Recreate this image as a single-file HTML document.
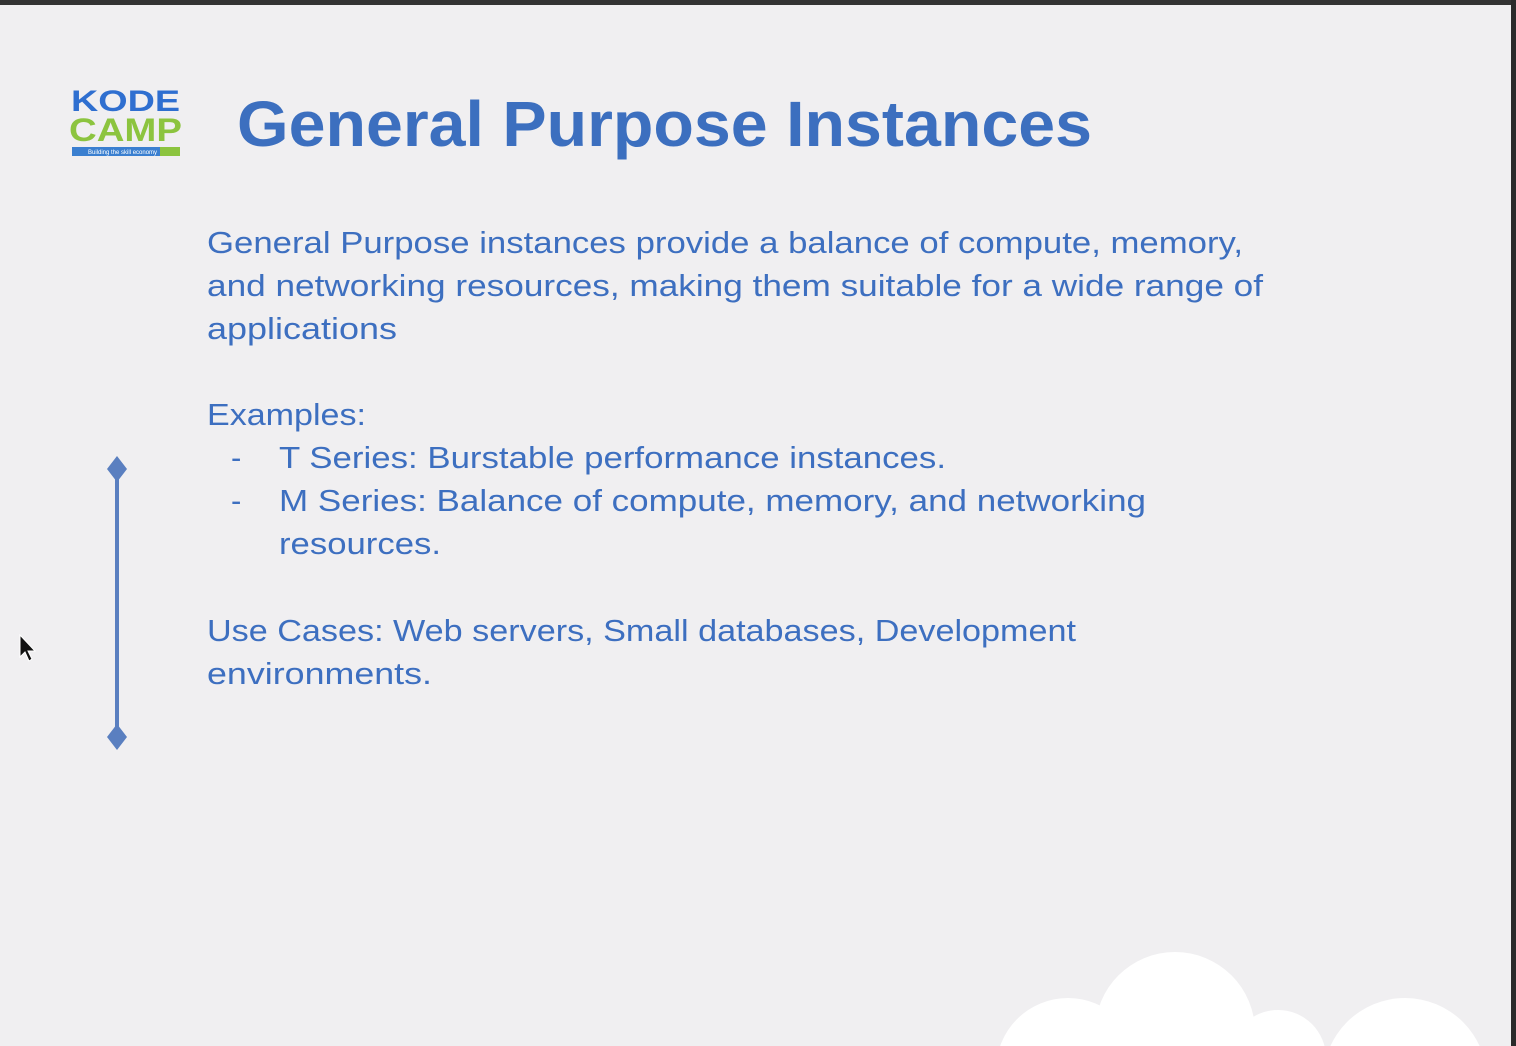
<!DOCTYPE html>
<html><head><meta charset="utf-8"><style>
html,body{margin:0;padding:0;background:#f0eff1;width:1516px;height:1046px;overflow:hidden;}
svg{display:block}
</style></head><body>
<svg width="1516" height="1046" viewBox="0 0 1516 1046" xmlns="http://www.w3.org/2000/svg">
<rect width="1516" height="1046" fill="#f0eff1"/>
<rect width="1516" height="5" fill="#333"/>
<rect x="1511" y="0" width="5" height="1046" fill="#2a2a2a"/>
<g fill="#ffffff">
<circle cx="1068" cy="1070" r="72"/>
<circle cx="1175" cy="1032" r="80"/>
<circle cx="1278" cy="1058" r="48"/>
<circle cx="1405" cy="1080" r="82"/>
</g>
<g font-family="Liberation Sans, sans-serif" font-weight="bold">
<text x="71" y="111" font-size="30" fill="#2f6fd0" textLength="109" lengthAdjust="spacingAndGlyphs">KODE</text>
<text x="69" y="141" font-size="32" fill="#8cc43f" textLength="113" lengthAdjust="spacingAndGlyphs">CAMP</text>
<rect x="72" y="147" width="108" height="9" fill="#3a7fd0"/>
<rect x="160" y="147" width="20" height="9" fill="#8cc43f"/>
<text x="88" y="154" font-size="6" fill="#fff" font-weight="normal">Building the skill economy</text>
</g>
<text x="237" y="146" font-family="Liberation Sans, sans-serif" font-weight="bold" font-size="64" fill="#3c6fbf" textLength="855" lengthAdjust="spacingAndGlyphs">General Purpose Instances</text>
<g font-family="Liberation Sans, sans-serif" font-size="31" fill="#3d6fc0">
<text x="207" y="253" textLength="1036" lengthAdjust="spacingAndGlyphs">General Purpose instances provide a balance of compute, memory,</text>
<text x="207" y="296" textLength="1056" lengthAdjust="spacingAndGlyphs">and networking resources, making them suitable for a wide range of</text>
<text x="207" y="339" textLength="190" lengthAdjust="spacingAndGlyphs">applications</text>
<text x="207" y="425" textLength="159" lengthAdjust="spacingAndGlyphs">Examples:</text>
<text x="231" y="468">-</text>
<text x="279" y="468" textLength="667" lengthAdjust="spacingAndGlyphs">T Series: Burstable performance instances.</text>
<text x="231" y="511">-</text>
<text x="279" y="511" textLength="867" lengthAdjust="spacingAndGlyphs">M Series: Balance of compute, memory, and networking</text>
<text x="279" y="554" textLength="162" lengthAdjust="spacingAndGlyphs">resources.</text>
<text x="207" y="641" textLength="869" lengthAdjust="spacingAndGlyphs">Use Cases: Web servers, Small databases, Development</text>
<text x="207" y="684" textLength="225" lengthAdjust="spacingAndGlyphs">environments.</text>
</g>
<line x1="117" y1="470" x2="117" y2="737" stroke="#5a7fc0" stroke-width="4"/>
<polygon points="117,456 127,469 117,482 107,469" fill="#5a7fc0"/>
<polygon points="117,724 127,737 117,750 107,737" fill="#5a7fc0"/>
<polygon points="20,635 20,657 25,652 29,661 32,659 28,651 35,651" fill="#111" stroke="#fff" stroke-width="1"/>
</svg>
</body></html>
